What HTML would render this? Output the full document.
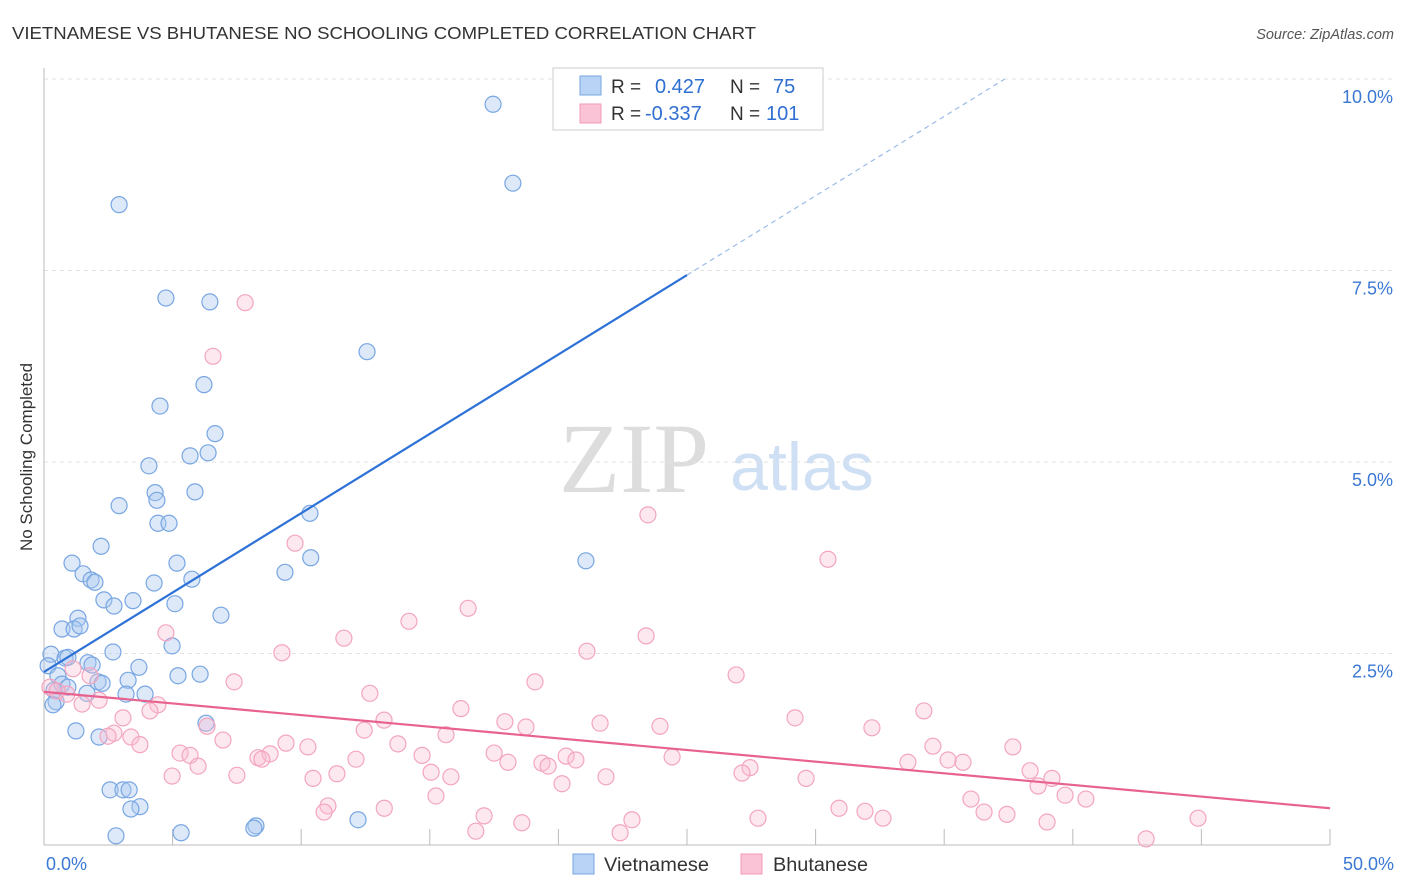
<!DOCTYPE html>
<html><head><meta charset="utf-8"><style>
body{margin:0;background:#fff;font-family:"Liberation Sans",sans-serif;}
svg{display:block}
</style></head><body>
<svg id="chart" width="1406" height="892">
<text x="12" y="39" font-size="17.5" fill="#333" textLength="744" lengthAdjust="spacingAndGlyphs">VIETNAMESE VS BHUTANESE NO SCHOOLING COMPLETED CORRELATION CHART</text>
<text x="1394" y="39" font-size="14.5" fill="#555" font-style="italic" text-anchor="end">Source: ZipAtlas.com</text>
<text x="32" y="457" font-size="17" fill="#333" transform="rotate(-90 32 457)" text-anchor="middle">No Schooling Completed</text>
<text x="634" y="492" font-size="100" fill="#ddd" font-family="Liberation Serif,serif" text-anchor="middle">ZIP</text>
<text x="802" y="490" font-size="68" fill="#cfe0f5" text-anchor="middle">atlas</text>
<g id="grid"></g><g id="pts"></g><g id="lines"></g>
<g>
<rect x="553" y="68" width="270" height="62" fill="#fff" stroke="#ccc"/>
<rect x="580" y="76" width="21" height="19" fill="#b8d3f5" stroke="#7aa7e0"/>
<rect x="580" y="104" width="21" height="19" fill="#fbc4d6" stroke="#f09ab6"/>
<text x="611" y="93" font-size="19" fill="#333">R =</text><text x="655" y="93" font-size="20" fill="#2f6fd1">0.427</text>
<text x="730" y="93" font-size="19" fill="#333">N =</text><text x="773" y="93" font-size="20" fill="#2f6fd1">75</text>
<text x="611" y="120" font-size="19" fill="#333">R =</text><text x="645" y="120" font-size="20" fill="#2f6fd1">-0.337</text>
<text x="730" y="120" font-size="19" fill="#333">N =</text><text x="766" y="120" font-size="20" fill="#2f6fd1">101</text>
</g>
<g>
<rect x="573" y="854" width="21" height="20" fill="#b8d3f5" stroke="#7aa7e0"/>
<text x="604" y="871" font-size="19" fill="#333" textLength="105" lengthAdjust="spacingAndGlyphs">Vietnamese</text>
<rect x="741" y="854" width="21" height="20" fill="#fbc4d6" stroke="#f09ab6"/>
<text x="773" y="871" font-size="19" fill="#333" textLength="95" lengthAdjust="spacingAndGlyphs">Bhutanese</text>
</g>
</svg>
<script>
const yTicks=[2.5,5.0,7.5,10.0];
const yTickLabels=["2.5%","5.0%","7.5%","10.0%"];
const xTicks=[0,5,10,15,20,25,30,35,40,45,50];
const xEndLabels=["0.0%","50.0%"];
const blueX=[17.46,18.23,2.92,4.74,6.45,12.56,6.22,4.51,6.65,4.08,5.68,6.38,4.32,4.39,5.87,2.92,4.43,4.86,10.34,2.22,1.09,5.17,10.37,21.07,9.37,1.52,1.83,1.98,4.28,5.75,2.33,3.46,2.72,5.09,6.88,1.32,0.70,1.17,1.40,4.98,2.68,0.27,0.82,0.93,1.71,1.87,3.69,0.16,5.21,6.07,0.54,3.27,0.70,2.10,2.26,0.93,0.39,1.67,3.19,3.93,0.47,0.35,6.30,1.24,2.14,2.57,3.07,3.31,3.73,3.38,2.80,5.33,8.24,8.16,12.21];
const blueY=[9.67,8.64,8.36,7.14,7.09,6.44,6.01,5.73,5.37,4.95,5.08,5.12,4.60,4.50,4.61,4.43,4.20,4.20,4.33,3.90,3.68,3.68,3.75,3.71,3.56,3.54,3.46,3.43,3.42,3.47,3.20,3.19,3.12,3.15,3.00,2.96,2.82,2.82,2.86,2.60,2.52,2.49,2.44,2.45,2.38,2.35,2.32,2.34,2.21,2.23,2.21,2.15,2.10,2.13,2.11,2.06,2.02,1.98,1.97,1.97,1.87,1.83,1.59,1.49,1.41,0.72,0.72,0.72,0.50,0.47,0.12,0.16,0.25,0.22,0.33];
const pinkX=[7.82,6.57,23.48,30.48,9.76,16.49,14.19,4.74,11.66,23.41,21.11,9.25,26.91,1.13,1.79,7.39,19.09,0.23,0.89,0.51,12.67,2.14,1.48,4.43,4.12,16.21,34.21,3.07,13.22,17.92,18.74,21.62,23.95,29.20,32.19,6.34,12.45,2.72,2.49,3.38,15.63,6.96,3.73,9.41,10.26,13.76,34.56,37.67,5.29,5.68,8.32,8.79,14.70,17.50,20.30,24.42,8.47,12.13,18.04,19.36,20.68,35.15,35.73,33.59,19.60,5.99,27.45,27.14,15.05,11.39,7.50,4.98,10.46,15.82,21.85,29.63,38.34,39.19,38.65,20.14,15.24,39.70,40.51,36.04,11.04,10.89,13.23,30.91,31.92,32.62,27.76,36.55,37.44,17.11,18.58,16.79,22.40,22.86,39.00,44.87,42.85];
const pinkY=[7.08,6.38,4.31,3.73,3.94,3.09,2.92,2.77,2.70,2.73,2.53,2.51,2.22,2.30,2.21,2.13,2.13,2.06,1.97,2.01,1.98,1.89,1.84,1.83,1.75,1.78,1.75,1.66,1.63,1.61,1.54,1.59,1.55,1.66,1.53,1.55,1.50,1.46,1.42,1.41,1.44,1.37,1.31,1.33,1.28,1.32,1.29,1.28,1.20,1.17,1.14,1.19,1.17,1.20,1.16,1.15,1.12,1.12,1.08,1.07,1.11,1.11,1.08,1.08,1.03,1.03,1.01,0.94,0.95,0.93,0.91,0.90,0.87,0.89,0.89,0.87,0.97,0.87,0.77,0.80,0.64,0.65,0.60,0.60,0.51,0.43,0.48,0.48,0.44,0.35,0.35,0.43,0.40,0.38,0.29,0.18,0.16,0.33,0.30,0.35,0.08];
const blueTrend=[2.26,7.44];
const pinkTrend=[2.0,0.48];

const X=v=>44+v*25.72, Y=v=>845-v*76.6;
const NS='http://www.w3.org/2000/svg';
function mk(t,a,p){const e=document.createElementNS(NS,t);for(const k in a)e.setAttribute(k,a[k]);p.appendChild(e);return e;}
const grid=document.getElementById('grid'),pts=document.getElementById('pts'),lines=document.getElementById('lines');
yTicks.forEach((t,i)=>{
 const l=mk('line',{x1:44,x2:1394,y1:Y(t),y2:Y(t),stroke:'#e2e2e2','stroke-dasharray':'4,4'},grid);
 
 
 const tx=mk('text',{x:1393,y:Y(t)+24,'font-size':18,fill:'#3a78d4','text-anchor':'end'},grid);
 tx.textContent=yTickLabels[i];
 
 
});
const ax=mk('line',{x1:44,x2:1330,y1:845,y2:845,stroke:'#bbb'},grid);


const ay=mk('line',{x1:44,x2:44,y1:68,y2:845,stroke:'#bbb'},grid);


xTicks.forEach(t=>{
 const l=mk('line',{x1:X(t),x2:X(t),y1:829,y2:845,stroke:'#bbb'},grid);
 
 
});
[[0,'start',46],[50,'end',1394]].forEach((d,i)=>{
 const tx=mk('text',{x:d[2],y:870,'font-size':18,fill:'#3a78d4','text-anchor':d[1]},grid);
 tx.textContent=xEndLabels[i];
 
 
});
blueX.forEach((x,i)=>{
 const c=mk('circle',{cx:X(x),cy:Y(blueY[i]),r:8,fill:'rgba(170,200,240,0.4)',stroke:'#78a6e2','stroke-width':1.2},pts);
 
 
});
pinkX.forEach((x,i)=>{
 const c=mk('circle',{cx:X(x),cy:Y(pinkY[i]),r:8,fill:'rgba(250,190,208,0.35)',stroke:'#f3a5bf','stroke-width':1.2},pts);
 
 
});
const bs=(blueTrend[1]-blueTrend[0])/25;
const b1=mk('line',{x1:X(0),y1:Y(blueTrend[0]),x2:X(25),y2:Y(blueTrend[1]),stroke:'#2e72d8','stroke-width':2.2},lines);


const xe=(10.0-blueTrend[0])/bs;
const b2=mk('line',{x1:X(25),y1:Y(blueTrend[1]),x2:X(xe),y2:Y(10.0),stroke:'#9bbbe8','stroke-width':1.2,'stroke-dasharray':'5,4'},lines);


const p1=mk('line',{x1:X(0),y1:Y(pinkTrend[0]),x2:X(50),y2:Y(pinkTrend[1]),stroke:'#e8628f','stroke-width':2.2},lines);


</script>
</body></html>
